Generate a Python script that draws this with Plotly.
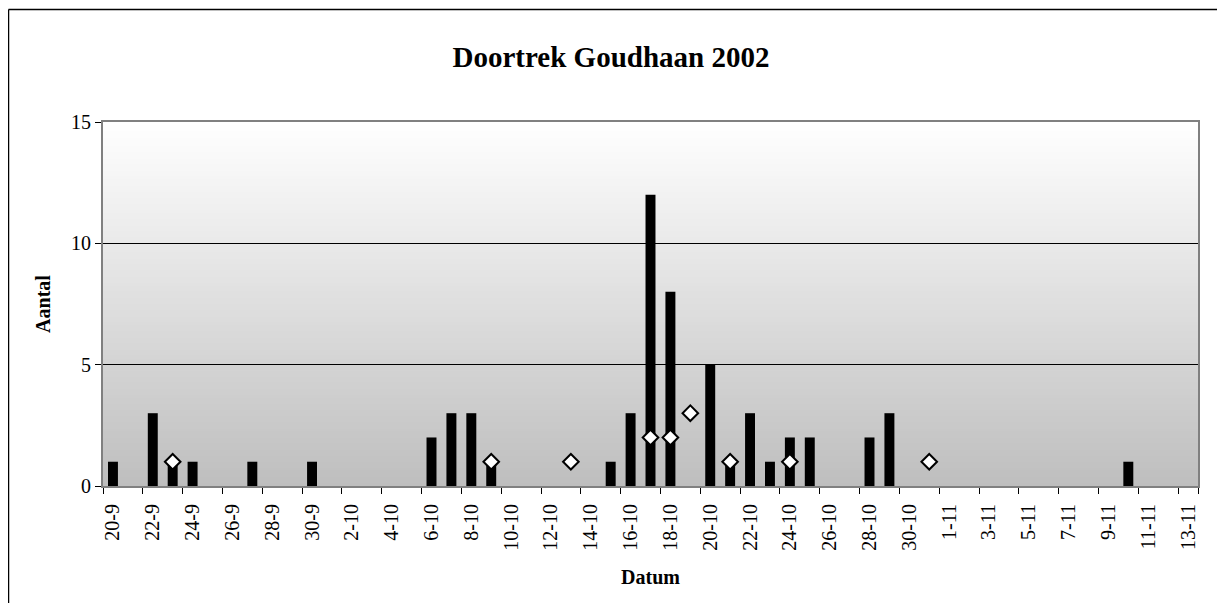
import datetime as dt
import plotly.graph_objects as go

# Categories: daily dates 20-9 .. 13-11 (2002)
start = dt.date(2002, 9, 20)
dates = [f"{(start + dt.timedelta(days=i)).day}-{(start + dt.timedelta(days=i)).month}" for i in range(55)]

# Bar series (aantal doortrekkers per dag)
bar_dates = ["20-9", "22-9", "23-9", "24-9", "27-9", "30-9", "6-10", "7-10", "8-10", "9-10",
             "15-10", "16-10", "17-10", "18-10", "20-10", "21-10", "22-10", "23-10", "24-10",
             "25-10", "28-10", "29-10", "10-11"]
bar_values = [1, 3, 1, 1, 1, 1, 2, 3, 3, 1,
              1, 3, 12, 8, 5, 1, 3, 1, 2,
              2, 2, 3, 1]

# Diamond series
dia_dates = ["23-9", "9-10", "13-10", "17-10", "18-10", "19-10", "21-10", "24-10", "31-10"]
dia_values = [1, 1, 1, 2, 2, 3, 1, 1, 1]

tick_labels = dates[::2]

FONT = "Liberation Serif, Times New Roman, serif"

fig = go.Figure()
fig.add_trace(go.Bar(x=bar_dates, y=bar_values, marker=dict(color="black", line=dict(width=0)),
                     width=0.5, name="Doortrek", showlegend=False))
fig.add_trace(go.Scatter(x=dia_dates, y=dia_values, mode="markers", name="Ter plaatse",
                         marker=dict(symbol="diamond", size=12, color="white",
                                     line=dict(color="black", width=2)),
                         showlegend=False, cliponaxis=False))

# page body has an 8px margin, so the figure is placed at (8, 8)
OFF = 8
L, R, T, B = 103 - OFF, 1198 - OFF, 122 - OFF, 486 - OFF
W, H = 1225 - OFF, 603 - OFF

# gradient background via overlapping strips
shapes = []
N = 120
for i in range(N):
    v = 255 - (255 - 190) * (1 - (i + 0.5) / N)
    c = int(round(v))
    shapes.append(dict(type="rect", xref="paper", yref="paper", x0=0, x1=1,
                       y0=i / N, y1=min(1.0, (i + 2) / N), fillcolor=f"rgb({c},{c},{c})",
                       line=dict(width=0), layer="below"))

def px(x): return (x - OFF - L) / (R - L)
def py(y): return (B - (y - OFF)) / (B - T)
# outer border (left and top only visible)
shapes.append(dict(type="line", xref="paper", yref="paper", x0=px(8.5), x1=px(1260), y0=py(9.5), y1=py(9.5),
                   line=dict(color="black", width=1.5)))
shapes.append(dict(type="line", xref="paper", yref="paper", x0=px(8.5), x1=px(8.5), y0=py(9.5), y1=py(640),
                   line=dict(color="black", width=1.5)))

fig.update_layout(
    width=W, height=H,
    margin=dict(l=L, r=W - R, t=T, b=H - B),
    paper_bgcolor="white", plot_bgcolor="white",
    shapes=shapes,
    title=dict(text="<b>Doortrek Goudhaan 2002</b>", x=px(611), xanchor="center", xref="paper",
               y=1 - (57 - OFF) / H, yanchor="middle", font=dict(family=FONT, size=29, color="black")),
    font=dict(family=FONT, color="black"),
    xaxis=dict(type="category", categoryorder="array", categoryarray=dates,
               range=[-0.5, 54.5], tickmode="array", tickvals=tick_labels, ticktext=tick_labels,
               tickson="boundaries", ticks="outside", ticklen=6, tickcolor="black", tickwidth=1,
               tickangle=-90, tickfont=dict(family=FONT, size=20, color="black"),
               ticklabelstandoff=8,
               showgrid=False, showline=True, linecolor="#808080", linewidth=2, mirror=True,
               title=dict(text="<b>Datum</b>", font=dict(family=FONT, size=20, color="black"), standoff=20)),
    yaxis=dict(range=[0, 15], tickvals=[0, 5, 10, 15], ticks="outside", ticklen=6,
               tickcolor="black", tickfont=dict(family=FONT, size=20, color="black"),
               showgrid=True, gridcolor="black", gridwidth=1,
               showline=True, linecolor="#808080", linewidth=2, mirror=True, zeroline=False,
               title=dict(text="<b>Aantal</b>", font=dict(family=FONT, size=20, color="black"), standoff=15)),
)

fig.write_html("out.html")
